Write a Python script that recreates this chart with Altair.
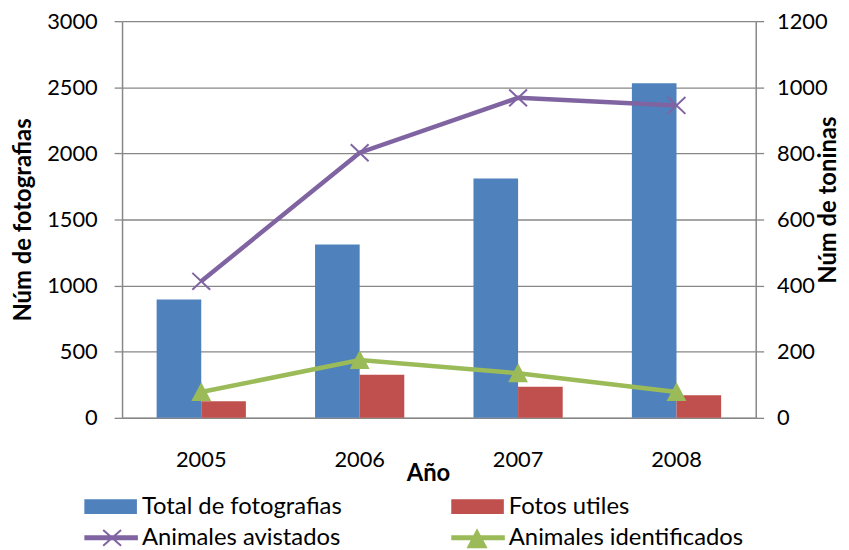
import altair as alt
import pandas as pd

# ---- data ----
years = ["2005", "2006", "2007", "2008"]
total_fotografias = [895, 1310, 1810, 2530]
fotos_utiles = [125, 325, 235, 170]
animales_avistados = [413, 802, 968, 945]
animales_identificados = [78, 175, 135, 78]

bar_series = ["Total de fotografias", "Fotos utiles"]
line_series = ["Animales avistados", "Animales identificados"]
legend_order = bar_series + line_series

left_ticks = [0, 500, 1000, 1500, 2000, 2500, 3000]
right_ticks = [0, 200, 400, 600, 800, 1000, 1200]

# ---- styling ----
BLUE, RED, PURPLE, GREEN = "#4F81BD", "#C0504D", "#8064A2", "#9BBB59"
GRAY = "#878787"
FONT = "Lato"
TXT = 24

X_MARK = "M-0.9,-0.85L0.9,0.85M-0.9,0.85L0.9,-0.85"
TRI_MARK = "M0,-1L1,0.9L-1,0.9Z"
LEG_BAR = "M-0.9,-0.65H4.2V0.65H-0.9Z"
LEG_X = "M-0.9,-0.15H4.3V0.15H-0.9Z M0.9,-0.8L2.7,0.8 M0.9,0.8L2.7,-0.8"
LEG_TRI = "M-0.9,-0.15H4.3V0.15H-0.9Z M1.6,-0.75L2.5,0.95L0.7,0.95Z"

bars_df = pd.DataFrame({
    "year": years * 2,
    "series": [bar_series[0]] * len(years) + [bar_series[1]] * len(years),
    "value": total_fotografias + fotos_utiles,
})
lines_df = pd.DataFrame({
    "year": years * 2,
    "series": [line_series[0]] * len(years) + [line_series[1]] * len(years),
    "value": animales_avistados + animales_identificados,
})
legend_df = pd.DataFrame({"series": legend_order})

x_axis = alt.Axis(
    title="Año", labelAngle=0, ticks=False, tickSize=0, grid=False,
    domainColor=GRAY, domainWidth=1.5, labelPadding=42, labelBaseline="middle",
    titleX=308.5, titleY=56.5, titleBaseline="middle", titleAlign="center",
)
x_enc = alt.X("year:N", sort=years,
              scale=alt.Scale(paddingInner=0.4366, paddingOuter=0.2183),
              axis=x_axis)

left_axis = alt.Axis(
    title="Núm de fotografias", values=left_ticks, format="d", grid=True, gridColor=GRAY,
    gridWidth=1.3, domainColor=GRAY, domainWidth=1.5, tickColor=GRAY,
    tickSize=8, tickWidth=1.3, labelPadding=17,
    titleAngle=270, titleX=-99, titleY=200, titleBaseline="middle", titleAlign="center",
)
right_axis = alt.Axis(
    title="Núm de toninas", orient="right", values=right_ticks, format="d", grid=False,
    domainColor=GRAY, domainWidth=1.5, tickColor=GRAY, tickSize=8, tickWidth=1.3,
    labelPadding=13,
    titleAngle=270, titleX=73, titleY=180, titleBaseline="middle", titleAlign="center",
)

bars = alt.Chart(bars_df).mark_bar().encode(
    x=x_enc,
    xOffset=alt.XOffset("series:N", scale=alt.Scale(domain=bar_series, paddingInner=0, paddingOuter=0)),
    y=alt.Y("value:Q", scale=alt.Scale(domain=[0, 3000]), axis=left_axis),
    color=alt.condition(alt.datum.series == bar_series[0], alt.value(BLUE), alt.value(RED)),
)

y_right = alt.Y("value:Q", scale=alt.Scale(domain=[0, 1200]), axis=right_axis)

lines = alt.Chart(lines_df).mark_line(strokeWidth=4.5).encode(
    x=x_enc,
    y=y_right,
    detail="series:N",
    stroke=alt.condition(alt.datum.series == line_series[0], alt.value(PURPLE), alt.value(GREEN)),
)
marks_x = alt.Chart(lines_df).transform_filter(alt.datum.series == line_series[0]).mark_point(
    shape=X_MARK, size=400, filled=False, stroke=PURPLE, strokeWidth=2, opacity=1
).encode(x=x_enc, y=y_right)
marks_tri = alt.Chart(lines_df).transform_filter(alt.datum.series == line_series[1]).mark_point(
    shape=TRI_MARK, size=400, filled=True, fill=GREEN, strokeWidth=0, opacity=1
).encode(x=x_enc, y=y_right)

line_layer = alt.layer(lines, marks_x, marks_tri)

leg = alt.Legend(
    title=None, orient="none", legendX=-40, legendY=477.5, direction="horizontal",
    columns=2, columnPadding=107, rowPadding=7.5, padding=0, offset=0,
    labelFont=FONT, labelFontSize=TXT, labelColor="black", labelOffset=36,
    labelLimit=400, symbolSize=400, symbolStrokeWidth=2, symbolOpacity=1,
)
legend_layer = alt.Chart(legend_df).transform_filter("false").mark_point(
    filled=True, size=400, strokeWidth=2, opacity=1
).encode(
    fill=alt.Fill("series:N", scale=alt.Scale(domain=legend_order, range=[BLUE, RED, PURPLE, GREEN]), legend=leg),
    stroke=alt.Stroke("series:N", scale=alt.Scale(domain=legend_order, range=[BLUE, RED, PURPLE, GREEN]), legend=leg),
    shape=alt.Shape("series:N", scale=alt.Scale(domain=legend_order, range=[LEG_BAR, LEG_BAR, LEG_X, LEG_TRI]), legend=leg),
)

chart = alt.layer(bars, line_layer, legend_layer).resolve_scale(
    y="independent"
).properties(
    width=639, height=400,
    autosize=alt.AutoSizeParams(type="none"),
    padding={"left": 115, "top": 11, "right": 86, "bottom": 131},
).configure_view(strokeWidth=0).configure_axis(
    labelFont=FONT, titleFont=FONT, labelFontSize=22, titleFontSize=TXT,
    labelColor="black", titleColor="black", titleFontWeight="bold",
)

chart.save("out.html", embed_options={"renderer": "svg", "actions": False})
